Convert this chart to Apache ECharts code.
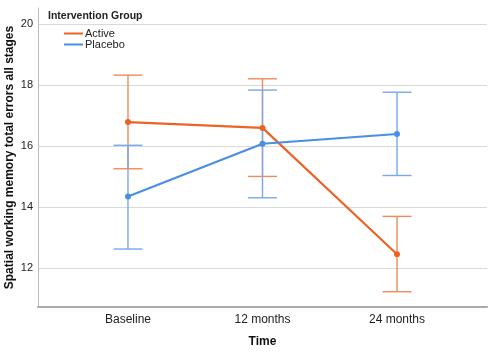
<!DOCTYPE html>
<html><head><meta charset="utf-8">
<script src="https://cdn.jsdelivr.net/npm/echarts@6/dist/echarts.min.js"></script>
<style>html,body{margin:0;padding:0;background:#fff}#c{width:490px;height:356px}</style>
</head><body><div id="c"></div>
<script>
var categories = ['Baseline', '12 months', '24 months'];
var activeMean = [16.78, 16.59, 12.45];
var activeLow = [15.25, 15.0, 11.22];
var activeHigh = [18.32, 18.2, 13.69];
var placeboMean = [14.34, 16.07, 16.39];
var placeboLow = [12.62, 14.3, 15.03];
var placeboHigh = [16.02, 17.83, 17.76];
var yTicks = [12, 14, 16, 18, 20];

var cActive = '#EB6426', cPlacebo = '#4A8FE0';
var cActiveBar = '#EF8A5A', cPlaceboBar = '#78A9E8';

function pts(m) { return m.map(function (v, i) { return [i, v]; }); }
function bars(lo, hi) { return lo.map(function (v, i) { return [i, v, hi[i]]; }); }
function errRender(color) {
  return function (params, api) {
    var x = api.value(0);
    var p1 = api.coord([x, api.value(1)]);
    var p2 = api.coord([x, api.value(2)]);
    var hw = 14.5;
    var st = { stroke: color, lineWidth: 1.4 };
    return { type: 'group', children: [
      { type: 'line', shape: { x1: p1[0], y1: p1[1], x2: p2[0], y2: p2[1] }, style: st },
      { type: 'line', shape: { x1: p1[0] - hw, y1: p1[1], x2: p1[0] + hw, y2: p1[1] }, style: st },
      { type: 'line', shape: { x1: p2[0] - hw, y1: p2[1], x2: p2[0] + hw, y2: p2[1] }, style: st }
    ]};
  };
}

var chart = echarts.init(document.getElementById('c'));
chart.setOption({
  animation: false,
  textStyle: { fontFamily: 'Liberation Sans, Arial, sans-serif' },
  title: { text: 'Intervention Group', left: 43, top: 6,
    textStyle: { fontSize: 10.5, fontWeight: 'bold', color: '#222' } },
  legend: { data: ['Active', 'Placebo'], orient: 'vertical', left: 59, top: 23,
    itemWidth: 19, itemHeight: 2, itemGap: 0, icon: 'rect',
    textStyle: { fontSize: 11, color: '#222', padding: [0, 0, 0, -3] } },
  grid: { left: 38, right: 3, top: 8, bottom: 49, containLabel: false, outerBoundsMode: 'none' },
  xAxis: {
    type: 'value', min: -0.669, max: 2.669,
    name: 'Time', nameLocation: 'middle', nameGap: 29, nameMoveOverlap: false,
    nameTextStyle: { fontSize: 12, fontWeight: 'bold', color: '#111' },
    axisLine: { show: true, onZero: false, lineStyle: { color: '#aaa', width: 2 } },
    axisTick: { show: false, customValues: [0, 1, 2] },
    splitLine: { show: false },
    axisLabel: { customValues: [0, 1, 2], fontSize: 12, color: '#222', margin: 7,
      formatter: function (v) { return categories[Math.round(v)]; } }
  },
  yAxis: {
    type: 'value', min: 10.72, max: 20.52,
    name: 'Spatial working memory total errors all stages', nameLocation: 'middle', nameGap: 22,
    nameMoveOverlap: false,
    nameTextStyle: { fontSize: 12, fontWeight: 'bold', color: '#111' },
    axisLine: { show: true, onZero: false, lineStyle: { color: '#bbb', width: 1 } },
    axisTick: { show: false, customValues: yTicks },
    axisLabel: { customValues: yTicks, fontSize: 11, color: '#222', margin: 5 },
    splitLine: { show: true, lineStyle: { color: '#d9d9d9', width: 1 } }
  },
  series: [
    { name: 'ActiveErr', type: 'custom', renderItem: errRender(cActiveBar), data: bars(activeLow, activeHigh), z: 2, silent: true },
    { name: 'PlaceboErr', type: 'custom', renderItem: errRender(cPlaceboBar), data: bars(placeboLow, placeboHigh), z: 2, silent: true },
    { name: 'Active', type: 'line', data: pts(activeMean), symbol: 'circle', symbolSize: 6,
      itemStyle: { color: cActive }, lineStyle: { color: cActive, width: 2.2 }, z: 3 },
    { name: 'Placebo', type: 'line', data: pts(placeboMean), symbol: 'circle', symbolSize: 6,
      itemStyle: { color: cPlacebo }, lineStyle: { color: cPlacebo, width: 2.2 }, z: 3 }
  ]
});
</script></body></html>
